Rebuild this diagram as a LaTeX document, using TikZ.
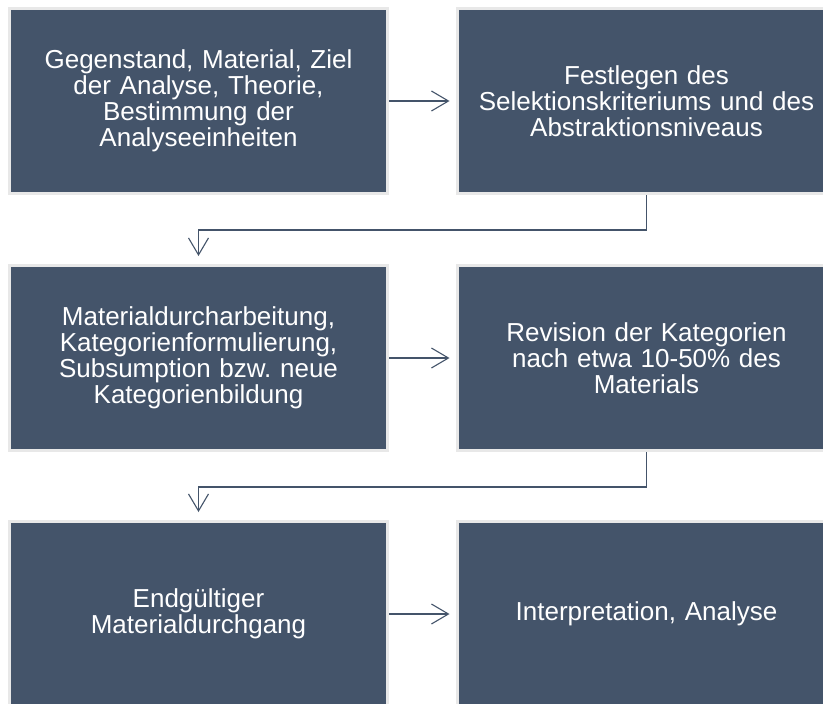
\documentclass[tikz,border=0pt]{standalone}
\usepackage{fontspec}
\setmainfont{Liberation Sans}
\usetikzlibrary{arrows.meta}
\definecolor{boxfill}{HTML}{44546A}
\definecolor{boxrim}{HTML}{E8E8E8}
\definecolor{conncol}{HTML}{44546A}
\tikzset{
  stepbox/.style={rectangle, fill=boxfill, draw=boxrim, line width=3pt,
    minimum width=378pt, minimum height=185pt, inner sep=0pt,
    text=white, align=center, text width=370pt,
    font=\frenchspacing\fontsize{26pt}{26pt}\selectfont},
  conn/.style={draw=conncol, line width=1.1pt,
    -{Straight Barb[length=17pt,width=20pt,line width=1.1pt]}}
}
\begin{document}
\begin{tikzpicture}[x=1pt,y=-1pt]
\useasboundingbox[fill=white] (0,0) rectangle (823,704);
\node[stepbox] (a1) at (198.5,101) {Gegenstand, Material, Ziel\\der Analyse, Theorie,\\Bestimmung der\\Analyseeinheiten};
\node[stepbox] (a2) at (646.5,101) {Festlegen des\\Selektionskriteriums und des\\Abstraktionsniveaus};
\node[stepbox] (b1) at (198.5,358) {Materialdurcharbeitung,\\Kategorienformulierung,\\Subsumption bzw.\ neue\\Kategorienbildung};
\node[stepbox] (b2) at (646.5,358) {Revision der Kategorien\\nach etwa 10-50\% des\\Materials};
\node[stepbox] (c1) at (198.5,614) {Endgültiger\\Materialdurchgang};
\node[stepbox] (c2) at (646.5,614) {Interpretation, Analyse};
\draw[conn, shorten >=6.5pt] (a1.east) -- (a2.west);
\draw[conn, shorten >=6.5pt] (b1.east) -- (b2.west);
\draw[conn, shorten >=6.5pt] (c1.east) -- (c2.west);
\draw[conn] (a2.south) -- ++(0,35) -| ([yshift=8pt]b1.north);
\draw[conn] (b2.south) -- ++(0,35) -| ([yshift=8pt]c1.north);
\end{tikzpicture}
\end{document}
